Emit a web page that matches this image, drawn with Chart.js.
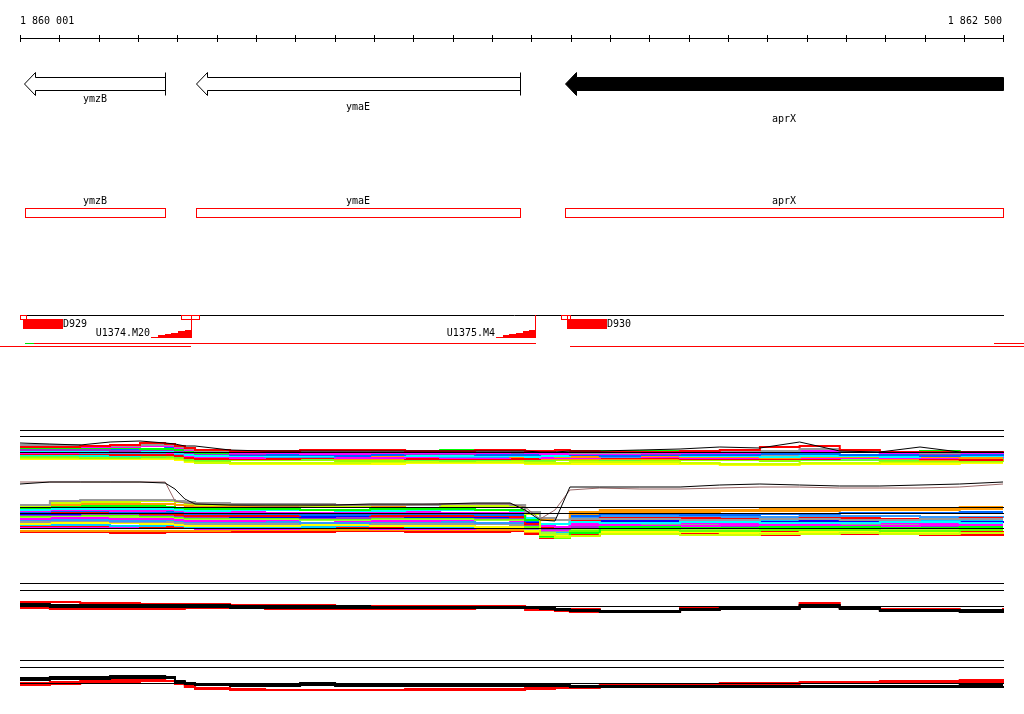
<!DOCTYPE html>
<html><head><meta charset="utf-8">
<script src="https://cdn.jsdelivr.net/npm/chart.js@4.4.1/dist/chart.umd.min.js"></script>
<style>html,body{margin:0;padding:0;background:#fff;}canvas{display:block;}</style>
</head><body>
<canvas id="c" width="1024" height="714"></canvas>
<script>
// ================= DATA =================
const viewStart = 1860001, viewEnd = 1862500;
const rulerLabels = ['1 860 001', '1 862 500'];

const geneNames = ['ymzB', 'ymaE', 'aprX'];
const geneStarts = [1860011, 1860448, 1861386];
const geneEnds = [1860370, 1861272, 1862500];
const geneHighlight = [false, false, true];
const cdsStarts = [1860014, 1860448, 1861386];
const cdsEnds = [1860370, 1861272, 1862500];

const siteStarts = [1860001, 1860410, 1860435, 1861376, 1861392];
const siteEnds = [1860015, 1860435, 1860456, 1861392, 1861399];
const featLine = [1860014, 1862500];
const dNames = ['D929', 'D930'];
const dStarts = [1860009, 1861392];
const dEnds = [1860110, 1861493];
const uNames = ['U1374.M20', 'U1375.M4'];
const uStarts = [1860334, 1861211];
const uEnds = [1860437, 1861312];
const tuStarts = [1860014, 1860037, 1862477, 1859900, 1861399];
const tuEnds = [1860037, 1861313, 1862600, 1860436, 1862600];
const tuLane = [0, 0, 0, 1, 1];
const tuKind = ['utr', 'tu', 'tu', 'tu', 'tu'];

// probe positions (bp)
const probes = [1860001,1860077,1860154,1860230,1860306,1860370,1860395,1860420,1860446,1860535,1860624,1860713,1860802,1860891,1860980,1861069,1861158,1861247,1861285,1861323,1861361,1861399,1861475,1861577,1861679,1861780,1861882,1861983,1862085,1862187,1862289,1862390,1862500];

// reference levels per track
const refA = [10, 9.4, 7.8];
const refB = [10, 9.4, 7.9];
const refC = [10, 9.3, 7.7];
const refD = [10, 9.3, 7.7];

// track A (log2 signal)
const aBlack = [8.7,8.6,8.5,8.8,8.9,8.7,8.6,8.4,8.4,8.0,7.9,7.9,7.9,7.9,7.9,7.9,7.9,7.9,7.9,7.8,7.8,7.9,7.9,8.0,8.1,8.3,8.2,8.8,7.9,7.8,8.3,7.8,7.8];
const aRed = [8.3,8.3,8.4,8.5,8.7,8.6,8.4,8.2,8.0,7.9,7.9,8.0,8.0,8.0,7.9,7.9,8.0,8.0,7.9,7.9,8.0,7.9,7.8,7.8,7.9,8.0,8.3,8.4,8.0,7.8,7.8,7.8,7.9];
const aGray = [8.5,8.5,8.4,8.4,8.5,8.5,8.3,8.1,7.9,7.8,7.8,7.8,7.9,7.8,7.8,7.8,7.9,7.8,7.8,7.8,7.8,7.7,7.7,7.8,7.8,7.9,7.9,8.1,7.9,7.8,7.7,7.8,7.8];
const aMagenta = [8.4,8.4,8.3,8.3,8.4,8.4,8.2,8.0,7.8,7.7,7.7,7.6,7.6,7.7,7.7,7.7,7.7,7.8,7.7,7.6,7.6,7.6,7.6,7.7,7.7,7.7,7.8,7.9,7.8,7.7,7.7,7.7,7.6];
const aGreen = [8.2,8.2,8.2,8.2,8.1,8.1,8.0,7.8,7.7,7.9,7.9,7.9,7.8,7.9,7.9,8.0,7.9,7.9,7.8,7.8,7.9,7.8,7.9,7.9,7.9,7.8,7.8,7.9,7.9,7.8,7.9,7.8,7.9];
const aBlue = [8.3,8.2,8.2,8.1,8.1,8.2,8.0,7.8,7.6,7.5,7.5,7.5,7.4,7.5,7.6,7.6,7.5,7.5,7.5,7.6,7.6,7.5,7.4,7.5,7.5,7.5,7.6,7.6,7.5,7.5,7.4,7.5,7.4];
const aCyan = [7.8,7.9,7.9,7.8,7.8,7.8,7.7,7.5,7.4,7.4,7.4,7.4,7.5,7.5,7.4,7.4,7.4,7.4,7.3,7.4,7.4,7.5,7.5,7.5,7.4,7.4,7.3,7.4,7.4,7.3,7.4,7.4,7.3];
const aOrange = [8.1,8.1,8.0,8.0,8.0,7.9,7.8,7.6,7.5,7.4,7.4,7.5,7.5,7.4,7.4,7.5,7.4,7.3,7.4,7.4,7.3,7.3,7.4,7.4,7.3,7.3,7.2,7.3,7.3,7.3,7.3,7.2,7.2];
const aMagenta2 = [7.7,7.7,7.8,7.8,7.7,7.7,7.6,7.4,7.3,7.2,7.3,7.3,7.2,7.2,7.3,7.2,7.2,7.3,7.3,7.2,7.2,7.2,7.3,7.3,7.2,7.2,7.3,7.2,7.2,7.2,7.2,7.3,7.2];
const aLime = [7.3,7.3,7.2,7.2,7.3,7.3,7.2,7.0,6.9,7.0,7.0,7.0,6.9,6.9,7.0,6.9,7.0,7.0,6.9,6.9,7.0,7.0,7.1,7.0,7.0,7.0,6.9,7.0,7.0,6.9,6.9,6.9,7.0];
const aYellow = [7.2,7.2,7.2,7.3,7.2,7.2,7.1,6.9,6.7,6.7,6.7,6.7,6.7,6.8,6.8,6.8,6.8,6.8,6.7,6.7,6.7,6.8,6.8,6.8,6.7,6.6,6.6,6.7,6.7,6.8,6.8,6.8,6.8];
const aPurple = [8.0,8.0,8.0,7.9,8.0,8.0,7.9,7.7,7.6,7.6,7.7,7.7,7.7,7.7,7.6,7.6,7.7,7.7,7.7,7.6,7.6,7.7,7.7,7.6,7.7,7.8,7.9,8.0,7.9,7.7,7.6,7.7,7.7];
const aRed2 = [7.6,7.6,7.6,7.5,7.5,7.5,7.4,7.2,7.1,7.1,7.1,7.2,7.2,7.2,7.1,7.1,7.1,7.1,7.1,7.2,7.2,7.2,7.2,7.2,7.1,7.1,7.1,7.1,7.2,7.2,7.1,7.0,7.0];
const aGray2 = [7.9,7.9,7.8,7.8,7.8,7.9,7.8,7.6,7.5,7.6,7.5,7.5,7.5,7.6,7.6,7.5,7.5,7.6,7.6,7.5,7.5,7.5,7.5,7.5,7.6,7.6,7.5,7.5,7.5,7.5,7.5,7.6,7.6];
const aGreen2 = [7.4,7.4,7.4,7.3,7.3,7.4,7.3,7.1,7.0,7.1,7.1,7.1,7.1,7.1,7.0,7.0,7.0,7.1,7.0,7.0,7.1,7.1,7.0,7.1,7.1,7.1,7.1,7.0,7.0,7.0,7.0,7.1,7.1];
const aBlue2 = [7.8,7.8,7.7,7.7,7.7,7.8,7.6,7.5,7.4,7.4,7.3,7.3,7.4,7.4,7.4,7.3,7.3,7.4,7.4,7.4,7.4,7.3,7.3,7.4,7.4,7.4,7.4,7.5,7.4,7.4,7.3,7.3,7.3];
const aOrange2 = [7.5,7.5,7.5,7.6,7.6,7.6,7.5,7.3,7.2,7.2,7.2,7.2,7.1,7.1,7.1,7.2,7.2,7.2,7.2,7.1,7.1,7.1,7.1,7.1,7.2,7.2,7.2,7.2,7.2,7.1,7.0,7.0,7.1];
const aCyan2 = [7.5,7.5,7.4,7.4,7.5,7.5,7.4,7.3,7.2,7.3,7.3,7.2,7.2,7.2,7.3,7.3,7.3,7.2,7.2,7.3,7.3,7.3,7.3,7.2,7.2,7.3,7.3,7.3,7.2,7.2,7.2,7.2,7.3];
const aLemon = [7.1,7.1,7.1,7.1,7.1,7.1,7.0,6.8,6.7,6.6,6.6,6.6,6.6,6.6,6.7,6.7,6.7,6.7,6.6,6.6,6.6,6.6,6.6,6.6,6.6,6.5,6.5,6.6,6.6,6.6,6.6,6.7,6.7];

// track B
const bBlack = [12.3,12.5,12.5,12.5,12.5,12.4,11.8,10.8,10.3,10.2,10.2,10.2,10.2,10.3,10.3,10.3,10.4,10.4,9.7,8.7,8.6,12.0,12.0,12.0,12.0,12.2,12.3,12.2,12.1,12.1,12.2,12.3,12.5];
const bBrown = [12.5,12.5,12.5,12.5,12.5,12.5,10.6,10.4,10.3,10.2,10.1,10.1,10.2,10.2,10.2,10.3,10.3,10.3,10.0,8.8,9.7,11.7,11.9,11.8,11.8,11.9,12.0,12.0,11.9,11.9,11.9,12.0,12.3];
const bGray = [10.2,10.6,10.7,10.7,10.7,10.7,10.6,10.5,10.4,10.3,10.3,10.3,10.2,10.2,10.2,10.3,10.3,10.2,9.5,8.9,8.7,8.8,8.8,8.8,8.7,8.7,8.8,8.8,8.7,8.7,8.8,8.8,8.8];
const bYellow = [10.1,10.4,10.5,10.5,10.6,10.6,10.5,10.3,10.2,10.2,10.2,10.1,10.1,10.2,10.2,10.1,10.1,10.1,9.3,7.2,7.0,7.1,7.3,7.3,7.2,7.2,7.3,7.3,7.4,7.3,7.3,7.4,7.4];
const bOrange = [10.0,10.2,10.3,10.3,10.3,10.3,10.2,10.1,10.0,10.0,10.0,10.1,10.1,10.1,10.2,10.2,10.2,10.2,9.5,8.7,8.7,9.5,9.7,9.7,9.7,9.7,9.8,9.8,9.9,9.9,9.9,10.0,10.0];
const bGreen = [9.9,10.0,10.1,10.1,10.1,10.0,9.9,9.8,9.8,9.8,9.8,9.7,9.7,9.8,9.8,9.8,9.7,9.7,8.7,7.1,7.0,7.4,8.0,8.0,7.9,7.9,8.0,8.0,8.0,7.9,7.9,8.0,8.0];
const bCyan = [9.7,9.8,9.8,9.8,9.8,9.8,9.7,9.6,9.6,9.7,9.7,9.7,9.6,9.6,9.7,9.7,9.7,9.6,8.9,8.3,8.3,8.5,8.4,8.4,8.5,8.5,8.4,8.4,8.4,8.5,8.5,8.4,8.4];
const bMagenta = [9.6,9.7,9.7,9.6,9.6,9.7,9.6,9.5,9.5,9.5,9.4,9.4,9.5,9.5,9.5,9.4,9.4,9.5,8.7,8.1,8.0,8.2,8.2,8.1,8.1,8.2,8.2,8.2,8.1,8.1,8.2,8.2,8.2];
const bBlue = [9.5,9.6,9.6,9.5,9.5,9.5,9.4,9.3,9.3,9.3,9.3,9.2,9.2,9.3,9.3,9.3,9.2,9.2,8.6,8.2,8.3,9.1,9.3,9.3,9.2,9.2,9.3,9.3,9.4,9.4,9.4,9.5,9.5];
const bRed = [9.4,9.4,9.4,9.4,9.3,9.3,9.2,9.1,9.1,9.1,9.1,9.2,9.2,9.1,9.1,9.1,9.1,9.0,8.3,7.9,7.9,8.7,8.9,8.9,8.9,8.8,8.8,8.9,8.9,8.8,8.8,8.9,8.9];
const bPurple = [9.2,9.2,9.3,9.3,9.2,9.2,9.1,9.0,9.0,9.0,9.0,8.9,8.9,9.0,9.0,9.0,8.9,8.9,8.2,7.8,7.8,8.0,8.1,8.1,8.0,8.0,8.1,8.1,8.1,8.0,8.0,8.1,8.1];
const bLime = [9.0,9.1,9.1,9.0,9.0,9.0,8.9,8.8,8.8,8.8,8.8,8.7,8.7,8.8,8.8,8.8,8.7,8.7,7.9,7.4,7.3,7.7,7.8,7.8,7.7,7.7,7.8,7.8,7.8,7.7,7.7,7.8,7.8];
const bMagenta2 = [8.8,8.9,8.9,8.8,8.8,8.8,8.7,8.6,8.6,8.6,8.7,8.7,8.6,8.6,8.6,8.7,8.7,8.6,8.0,7.7,7.7,8.4,8.5,8.5,8.4,8.4,8.5,8.5,8.5,8.4,8.4,8.5,8.5];
const bBlue2 = [8.7,8.7,8.7,8.6,8.6,8.7,8.6,8.5,8.5,8.5,8.5,8.4,8.4,8.5,8.5,8.5,8.4,8.4,8.0,7.8,7.9,8.9,9.1,9.1,9.1,9.0,9.0,9.1,9.1,9.1,9.0,9.0,9.1];
const bGray2 = [8.5,8.6,8.6,8.5,8.5,8.5,8.4,8.3,8.3,8.3,8.3,8.4,8.4,8.3,8.3,8.3,8.3,8.2,7.8,7.6,7.6,8.2,8.3,8.3,8.2,8.2,8.3,8.3,8.3,8.2,8.2,8.3,8.3];
const bYellow2 = [8.3,8.4,8.4,8.4,8.3,8.3,8.2,8.1,8.1,8.1,8.1,8.2,8.2,8.1,8.1,8.1,8.0,8.0,7.6,7.1,7.1,7.4,7.5,7.5,7.5,7.4,7.4,7.5,7.5,7.5,7.4,7.4,7.5];
const bCyan2 = [8.2,8.2,8.2,8.1,8.1,8.2,8.1,8.0,8.0,8.0,8.0,8.0,8.1,8.1,8.0,8.0,8.0,8.1,7.7,7.5,7.5,8.5,8.7,8.7,8.6,8.6,8.7,8.7,8.7,8.6,8.6,8.7,8.7];
const bMagenta3 = [8.0,8.0,8.0,7.9,7.9,8.0,7.9,7.9,7.8,7.8,7.8,7.9,7.9,7.8,7.8,7.8,7.9,7.9,7.6,7.3,7.3,7.8,7.9,7.9,7.8,7.8,7.9,7.9,7.9,7.8,7.8,7.9,7.9];
const bOrange2 = [7.6,7.6,7.6,7.6,7.6,7.6,7.6,7.6,7.6,7.7,7.7,7.7,7.7,7.7,7.7,7.7,7.7,7.7,7.5,7.3,7.4,9.3,9.5,9.5,9.5,9.6,9.6,9.6,9.7,9.7,9.7,9.8,9.8];
const bRed2 = [7.5,7.5,7.5,7.4,7.4,7.5,7.5,7.5,7.5,7.5,7.5,7.5,7.6,7.6,7.5,7.5,7.5,7.6,7.3,6.9,6.9,7.2,7.3,7.3,7.3,7.2,7.2,7.3,7.3,7.3,7.2,7.2,7.3];
const bGreen2 = [9.1,9.2,9.2,9.2,9.1,9.1,9.0,8.9,8.9,8.9,8.9,8.8,8.8,8.9,8.9,8.9,8.8,8.8,8.0,7.0,6.9,7.6,7.7,7.7,7.6,7.6,7.7,7.7,7.7,7.6,7.6,7.7,7.7];
const bBlue3 = [9.3,9.3,9.4,9.4,9.4,9.3,9.2,9.1,9.1,9.0,9.0,9.0,9.1,9.1,9.0,9.0,9.0,9.1,8.5,7.9,7.9,8.5,8.6,8.6,8.6,8.5,8.5,8.6,8.6,8.6,8.5,8.5,8.6];
const bRed3 = [8.1,8.1,8.1,8.1,8.0,8.0,8.0,7.9,7.9,7.9,7.9,8.0,8.0,7.9,7.9,7.9,7.9,8.0,7.6,7.2,7.2,7.5,7.6,7.6,7.6,7.5,7.5,7.6,7.6,7.6,7.5,7.5,7.6];

// track C
const cRed1 = [8.1,8.1,8.0,8.0,7.9,7.9,7.9,7.9,7.9,7.8,7.8,7.8,7.7,7.7,7.7,7.7,7.7,7.7,7.5,7.5,7.4,7.4,7.2,7.2,7.5,7.6,7.6,8.0,7.6,7.4,7.4,7.3,7.5];
const cRed2 = [7.5,7.4,7.4,7.4,7.4,7.4,7.4,7.5,7.5,7.5,7.4,7.4,7.4,7.4,7.4,7.4,7.5,7.5,7.3,7.3,7.2,7.1,7.1,7.1,7.3,7.4,7.4,7.7,7.5,7.3,7.2,7.2,7.3];
const cBlack1 = [7.9,7.8,7.8,7.8,7.8,7.8,7.8,7.8,7.8,7.7,7.7,7.7,7.7,7.6,7.6,7.6,7.6,7.6,7.6,7.5,7.4,7.3,7.2,7.2,7.4,7.5,7.5,7.8,7.5,7.3,7.3,7.3,7.4];
const cBlack2 = [7.7,7.6,7.6,7.6,7.6,7.6,7.6,7.6,7.6,7.5,7.5,7.5,7.5,7.5,7.5,7.5,7.5,7.5,7.5,7.4,7.3,7.2,7.1,7.1,7.3,7.4,7.4,7.6,7.4,7.2,7.2,7.1,7.2];

// track D
const dBlack1 = [8.2,8.3,8.3,8.4,8.4,8.3,7.9,7.7,7.6,7.5,7.5,7.7,7.5,7.5,7.5,7.5,7.5,7.5,7.5,7.5,7.5,7.4,7.4,7.4,7.4,7.4,7.4,7.4,7.4,7.4,7.4,7.5,7.5];
const dBlack2 = [8.0,8.1,8.1,8.2,8.2,8.2,7.8,7.6,7.5,7.4,7.4,7.5,7.4,7.4,7.4,7.4,7.4,7.4,7.4,7.4,7.4,7.3,7.3,7.3,7.3,7.3,7.3,7.3,7.3,7.3,7.3,7.3,7.4];
const dRed1 = [7.7,7.8,7.9,8.0,8.1,8.2,7.8,7.5,7.2,7.1,7.0,7.0,7.0,7.0,7.1,7.1,7.1,7.1,7.2,7.2,7.3,7.4,7.5,7.6,7.6,7.7,7.7,7.8,7.8,7.9,7.9,8.0,8.1];
const dRed2 = [7.5,7.6,7.7,7.8,7.9,7.9,7.6,7.3,7.1,7.0,7.0,7.0,7.0,7.0,7.0,7.0,7.0,7.0,7.1,7.1,7.2,7.2,7.3,7.4,7.5,7.6,7.6,7.7,7.7,7.8,7.8,7.8,7.9];

// ================= LAYOUT / STYLE =================
const W = 1024, H = 714;
const L = {
  left: 20, right: 1003,
  rulerY: 38, rulerLabelY: 24,
  geneY: 84, shaftHalf: 6.5, headHalf: 11.5, headLen: 11, geneLabelY: [102, 110, 122],
  cdsLabelY: 204, cdsTop: 208, cdsH: 9,
  featY: 315, siteH: 4, dTop: 319, dH: 10, dLabelY: 327,
  uBottom: 338, uMaxH: 8, uLabelY: 336, tuY: [343, 346]
};
const tracks = [
  {id: 'yA', refPx: 430, refVal: 10, pxPerUnit: 10, refs: refA},
  {id: 'yB', refPx: 507, refVal: 10, pxPerUnit: 10, refs: refB},
  {id: 'yC', refPx: 583, refVal: 10, pxPerUnit: 10, refs: refC},
  {id: 'yD', refPx: 660, refVal: 10, pxPerUnit: 10, refs: refD}
];
const FONT = '10px "DejaVu Sans Mono", monospace';
const RED = '#ff0000';

const series = [
  // [values, axis, color, width, stepped]
  [aBlack, 'yA', '#000000', 1, false],
  [bBlack, 'yB', '#000000', 1, false],
  [bBrown, 'yB', '#996666', 1, false],
  [aRed, 'yA', '#ff0000', 2, true],
  [aGray, 'yA', '#999999', 2, true],
  [aMagenta, 'yA', '#ff00ff', 2, true],
  [aGreen, 'yA', '#00ff00', 2, true],
  [aPurple, 'yA', '#9933cc', 2, true],
  [aBlue, 'yA', '#0066ff', 2, true],
  [aCyan, 'yA', '#00ffff', 2, true],
  [aOrange, 'yA', '#ff9900', 2, true],
  [aGray2, 'yA', '#999999', 2, true],
  [aBlue2, 'yA', '#3399ff', 2, true],
  [aMagenta2, 'yA', '#ff00ff', 2, true],
  [aRed2, 'yA', '#ff0000', 2, true],
  [aCyan2, 'yA', '#00ffcc', 2, true],
  [aOrange2, 'yA', '#ff9900', 2, true],
  [aGreen2, 'yA', '#66ff33', 2, true],
  [aLime, 'yA', '#99ff00', 2, true],
  [aYellow, 'yA', '#ccff00', 2, true],
  [aLemon, 'yA', '#ffff00', 2, true],
  [bGray, 'yB', '#999999', 2, true],
  [bYellow, 'yB', '#ccff00', 2, true],
  [bOrange, 'yB', '#ff9900', 2, true],
  [bGreen, 'yB', '#00ff00', 2, true],
  [bCyan, 'yB', '#00ffff', 2, true],
  [bMagenta, 'yB', '#ff00ff', 2, true],
  [bBlue, 'yB', '#0066ff', 2, true],
  [bRed, 'yB', '#ff0000', 2, true],
  [bBlue3, 'yB', '#0000ff', 2, true],
  [bPurple, 'yB', '#9933cc', 2, true],
  [bGreen2, 'yB', '#66ff00', 2, true],
  [bLime, 'yB', '#99ff33', 2, true],
  [bMagenta2, 'yB', '#ff00ff', 2, true],
  [bBlue2, 'yB', '#3399ff', 2, true],
  [bGray2, 'yB', '#999999', 2, true],
  [bYellow2, 'yB', '#ffff00', 2, true],
  [bCyan2, 'yB', '#00ccff', 2, true],
  [bRed3, 'yB', '#ff0000', 2, true],
  [bMagenta3, 'yB', '#ff00ff', 2, true],
  [bOrange2, 'yB', '#ff9900', 2, true],
  [bRed2, 'yB', '#ff0000', 2, true],
  [cBlack1, 'yC', '#000000', 2, true],
  [cBlack2, 'yC', '#000000', 2, true],
  [cRed1, 'yC', '#ff0000', 2, true],
  [cRed2, 'yC', '#ff0000', 2, true],
  [dBlack1, 'yD', '#000000', 2, true],
  [dBlack2, 'yD', '#000000', 2, true],
  [dRed1, 'yD', '#ff0000', 2, true],
  [dRed2, 'yD', '#ff0000', 2, true]
];

const datasets = series.map(([vals, axis, color, width, stepped]) => ({
  data: probes.map((p, i) => ({x: p, y: vals[i]})),
  xAxisID: 'x', yAxisID: axis,
  borderColor: color, borderWidth: width,
  stepped: stepped ? 'before' : false,
  tension: 0, pointRadius: 0, fill: false,
  borderCapStyle: 'butt', borderJoinStyle: 'miter'
}));

// scales
const bpPerPx = (viewEnd - viewStart) / (L.right - L.left);
const scales = {
  x: {type: 'linear', display: false, min: viewStart - L.left * bpPerPx, max: viewEnd + (W - L.right) * bpPerPx}
};
tracks.forEach(t => {
  scales[t.id] = {type: 'linear', display: false,
    min: t.refVal - (H - t.refPx) / t.pxPerUnit,
    max: t.refVal + t.refPx / t.pxPerUnit};
});

const rulerTicks = [];
for (let bp = viewStart; bp < viewEnd; bp += 100) rulerTicks.push(bp);
rulerTicks.push(viewEnd);

const genomePlugin = {
  id: 'genome',
  afterDatasetsDraw(chart) {
    const ctx = chart.ctx;
    const xs = chart.scales.x;
    const X = v => xs.getPixelForValue(v);
    const R = v => Math.round(v);
    const c = v => Math.round(v) + 0.5;
    ctx.save();
    ctx.lineWidth = 1;
    ctx.font = FONT;
    ctx.textBaseline = 'alphabetic';

    // reference lines of the expression tracks
    ctx.strokeStyle = '#000';
    ctx.beginPath();
    tracks.forEach(t => {
      const ys = chart.scales[t.id];
      t.refs.forEach(v => {
        const y = c(ys.getPixelForValue(v));
        ctx.moveTo(R(X(viewStart)), y); ctx.lineTo(R(X(viewEnd)) + 1, y);
      });
    });
    ctx.stroke();

    // ruler
    ctx.beginPath();
    ctx.moveTo(R(X(viewStart)), c(L.rulerY)); ctx.lineTo(R(X(viewEnd)) + 1, c(L.rulerY));
    rulerTicks.forEach(t => { const x = c(X(t)); ctx.moveTo(x, L.rulerY - 3); ctx.lineTo(x, L.rulerY + 4); });
    ctx.stroke();
    ctx.fillStyle = '#000';
    ctx.textAlign = 'left'; ctx.fillText(rulerLabels[0], R(X(viewStart)), L.rulerLabelY);
    ctx.textAlign = 'right'; ctx.fillText(rulerLabels[1], R(X(viewEnd)) - 1, L.rulerLabelY);

    // genes
    geneNames.forEach((name, i) => {
      const xa = R(X(geneStarts[i])) + 0.5, xb = R(X(geneEnds[i])) + 0.5;
      const y = L.geneY, sh = L.shaftHalf, hh = L.headHalf, hl = L.headLen;
      ctx.beginPath();
      ctx.moveTo(xa, y);
      ctx.lineTo(xa + hl, y - hh); ctx.lineTo(xa + hl, y - sh);
      ctx.lineTo(xb, y - sh); ctx.lineTo(xb, y + sh);
      ctx.lineTo(xa + hl, y + sh); ctx.lineTo(xa + hl, y + hh);
      ctx.closePath();
      ctx.fillStyle = geneHighlight[i] ? '#000' : '#fff';
      ctx.fill();
      ctx.strokeStyle = '#000';
      ctx.stroke();
      if (geneEnds[i] < viewEnd) {
        ctx.beginPath(); ctx.moveTo(xb, y - hh); ctx.lineTo(xb, y + hh); ctx.stroke();
      }
      ctx.fillStyle = '#000'; ctx.textAlign = 'center';
      ctx.fillText(name, R((X(geneStarts[i]) + X(geneEnds[i])) / 2), L.geneLabelY[i]);
    });

    // CDS boxes
    ctx.strokeStyle = RED;
    geneNames.forEach((name, i) => {
      const xa = R(X(cdsStarts[i])), xb = R(X(cdsEnds[i]));
      ctx.strokeRect(xa + 0.5, L.cdsTop + 0.5, xb - xa, L.cdsH);
      ctx.fillStyle = '#000'; ctx.textAlign = 'center';
      ctx.fillText(name, R((xa + xb) / 2), L.cdsLabelY);
    });

    // feature line
    ctx.strokeStyle = '#000';
    ctx.beginPath(); ctx.moveTo(R(X(featLine[0])), c(L.featY)); ctx.lineTo(R(X(featLine[1])) + 1, c(L.featY)); ctx.stroke();

    // sites (small open boxes)
    ctx.strokeStyle = RED;
    siteStarts.forEach((s, i) => {
      const xa = R(X(s)), xb = R(X(siteEnds[i]));
      ctx.strokeRect(xa + 0.5, L.featY + 0.5, xb - xa, L.siteH);
    });

    // D blocks
    dNames.forEach((n, i) => {
      const xa = R(X(dStarts[i])), xb = R(X(dEnds[i]));
      ctx.fillStyle = RED; ctx.fillRect(xa, L.dTop, xb - xa, L.dH);
      ctx.fillStyle = '#000'; ctx.textAlign = 'left'; ctx.fillText(n, xb, L.dLabelY);
    });

    // U ramps
    uNames.forEach((n, i) => {
      const xa = X(uStarts[i]), xb = R(X(uEnds[i]));
      const steps = 6, w = (xb - xa) / steps;
      ctx.fillStyle = RED;
      for (let k = 0; k < steps; k++) {
        const h = Math.round(L.uMaxH * (k + 1) / steps);
        ctx.fillRect(R(xa + k * w), L.uBottom - h, R(xa + (k + 1) * w) - R(xa + k * w), h);
      }
      ctx.fillRect(xb - 1, L.featY, 1, L.uBottom - L.featY);
      ctx.fillStyle = '#000'; ctx.textAlign = 'right';
      ctx.fillText(n, R(xa) - 1, L.uLabelY);
    });

    // transcription units
    tuStarts.forEach((s, i) => {
      ctx.strokeStyle = tuKind[i] === 'utr' ? '#00dd00' : RED;
      const y = c(L.tuY[tuLane[i]]);
      ctx.beginPath(); ctx.moveTo(R(X(s)), y); ctx.lineTo(R(X(tuEnds[i])), y); ctx.stroke();
    });
    ctx.restore();
  }
};

new Chart(document.getElementById('c'), {
  type: 'line',
  data: {datasets},
  options: {
    responsive: false, animation: false, devicePixelRatio: 1,
    events: [],
    layout: {padding: 0},
    plugins: {legend: {display: false}, tooltip: {enabled: false}, title: {display: false}},
    scales
  },
  plugins: [genomePlugin]
});
</script>
</body></html>
